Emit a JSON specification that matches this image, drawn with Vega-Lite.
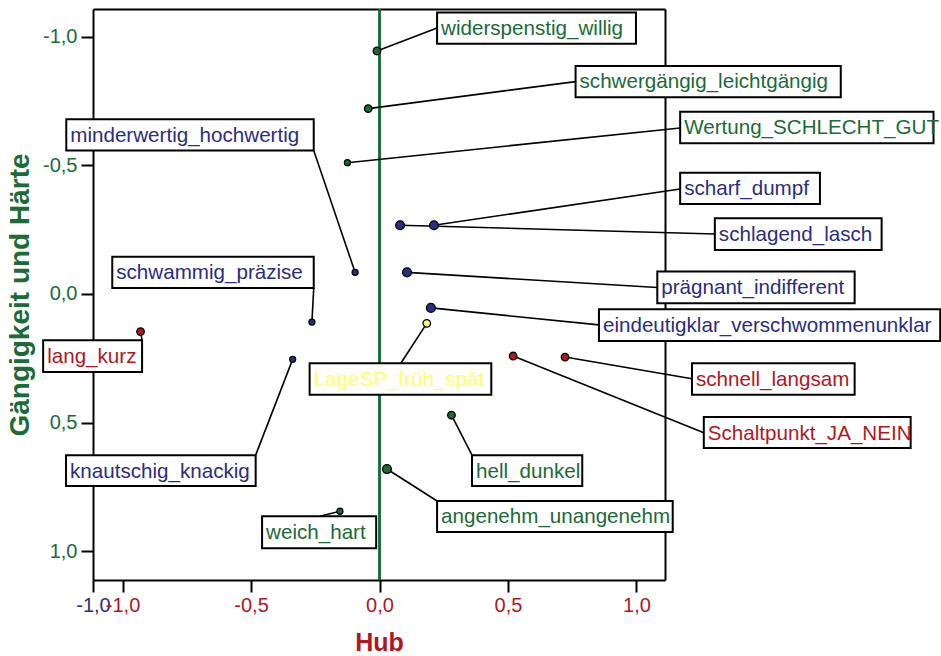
{
  "$schema": "https://vega.github.io/schema/vega-lite/v6.json",
  "width": 572,
  "height": 571,
  "autosize": {"type": "none"},
  "padding": {"left": 93, "top": 9, "right": 276, "bottom": 76},
  "background": "white",
  "config": {
    "view": {"stroke": null},
    "font": "Liberation Sans",
    "axis": {
      "grid": false,
      "domainColor": "black",
      "domainWidth": 2,
      "tickColor": "black",
      "tickWidth": 2,
      "tickSize": 12,
      "labelFont": "Liberation Sans",
      "labelFontSize": 20,
      "titleFont": "Liberation Sans",
      "titleFontWeight": "bold",
      "labelOverlap": false,
      "labelFlush": false,
      "labelBound": false
    }
  },
  "data": {
    "values": [
      {"name": "widerspenstig_willig", "k": "K1", "x": -0.01, "y": -0.944, "w": 2, "ax": 0.224, "ay": -1.033, "x1": 0.224, "x2": 0.998, "y1": -1.093, "y2": -0.972},
      {"name": "schwergängig_leichtgängig", "k": "K1", "x": -0.044, "y": -0.72, "w": 2, "ax": 0.763, "ay": -0.825, "x1": 0.763, "x2": 1.795, "y1": -0.886, "y2": -0.764},
      {"name": "Wertung_SCHLECHT_GUT", "k": "K1", "x": -0.125, "y": -0.51, "w": 1, "ax": 1.170, "ay": -0.645, "x1": 1.170, "x2": 2.156, "y1": -0.708, "y2": -0.586},
      {"name": "minderwertig_hochwertig", "k": "K2", "x": -0.095, "y": -0.084, "w": 1, "ax": -0.256, "ay": -0.557, "x1": -1.219, "x2": -0.256, "y1": -0.679, "y2": -0.557},
      {"name": "scharf_dumpf", "k": "K2", "x": 0.212, "y": -0.267, "w": 3, "ax": 1.170, "ay": -0.408, "x1": 1.170, "x2": 1.714, "y1": -0.471, "y2": -0.350},
      {"name": "schlagend_lasch", "k": "K2", "x": 0.08, "y": -0.267, "w": 3, "ax": 1.305, "ay": -0.233, "x1": 1.305, "x2": 1.954, "y1": -0.294, "y2": -0.171},
      {"name": "prägnant_indifferent", "k": "K2", "x": 0.107, "y": -0.084, "w": 3, "ax": 1.081, "ay": -0.025, "x1": 1.081, "x2": 1.849, "y1": -0.087, "y2": 0.036},
      {"name": "schwammig_präzise", "k": "K2", "x": -0.263, "y": 0.109, "w": 1, "ax": -0.256, "ay": -0.023, "x1": -1.040, "x2": -0.256, "y1": -0.145, "y2": -0.023},
      {"name": "eindeutigklar_verschwommenunklar", "k": "K2", "x": 0.2, "y": 0.054, "w": 3, "ax": 0.854, "ay": 0.120, "x1": 0.854, "x2": 2.182, "y1": 0.059, "y2": 0.183},
      {"name": "LageSP_früh_spät", "k": "K4", "x": 0.184, "y": 0.114, "w": 2, "ax": 0.083, "ay": 0.269, "x1": -0.272, "x2": 0.435, "y1": 0.269, "y2": 0.391},
      {"name": "lang_kurz", "k": "K3", "x": -0.93, "y": 0.146, "w": 2, "ax": -0.924, "ay": 0.180, "x1": -1.309, "x2": -0.924, "y1": 0.180, "y2": 0.303},
      {"name": "knautschig_knackig", "k": "K2", "x": -0.338, "y": 0.254, "w": 1, "ax": -0.482, "ay": 0.626, "x1": -1.220, "x2": -0.482, "y1": 0.626, "y2": 0.746},
      {"name": "schnell_langsam", "k": "K3", "x": 0.722, "y": 0.245, "w": 2, "ax": 1.216, "ay": 0.329, "x1": 1.216, "x2": 1.849, "y1": 0.269, "y2": 0.391},
      {"name": "Schaltpunkt_JA_NEIN", "k": "K3", "x": 0.52, "y": 0.241, "w": 2, "ax": 1.262, "ay": 0.539, "x1": 1.262, "x2": 2.067, "y1": 0.478, "y2": 0.598},
      {"name": "hell_dunkel", "k": "K1", "x": 0.28, "y": 0.471, "w": 2, "ax": 0.360, "ay": 0.626, "x1": 0.360, "x2": 0.789, "y1": 0.626, "y2": 0.746},
      {"name": "angenehm_unangenehm", "k": "K1", "x": 0.029, "y": 0.68, "w": 3, "ax": 0.224, "ay": 0.804, "x1": 0.224, "x2": 1.141, "y1": 0.804, "y2": 0.925},
      {"name": "weich_hart", "k": "K1", "x": -0.154, "y": 0.844, "w": 1, "ax": -0.232, "ay": 0.863, "x1": -0.457, "x2": -0.013, "y1": 0.863, "y2": 0.988}
    ]
  },
  "resolve": {"axis": {"x": "independent", "y": "independent"}},
  "layer": [
    {
      "mark": {"type": "rule", "color": "#1a6b38", "strokeWidth": 1.3},
      "encoding": {
        "x": {"datum": 0, "type": "quantitative", "scale": {"domain": [-1.115, 1.111], "nice": false, "zero": false}, "axis": null}
      }
    },
    {
      "mark": {"type": "rule", "color": "black", "strokeWidth": 1.6},
      "encoding": {
        "x": {
          "field": "x", "type": "quantitative",
          "scale": {"domain": [-1.115, 1.111], "nice": false, "zero": false},
          "axis": {
            "orient": "bottom",
            "title": "Hub",
            "titleColor": "#b0171f",
            "titleFontSize": 25,
            "titlePadding": 15,
            "values": [-1.115, -1, -0.5, 0, 0.5, 1],
            "labelPadding": 3,
            "labelExpr": "datum.value < -1.05 ? '-1,0' : (datum.value < 0 ? '-' : '') + replace(format(abs(datum.value), '.1f'), '.', ',')",
            "labelColor": {"condition": {"test": "datum.value < -1.05", "value": "#2b2d7f"}, "value": "#b0171f"}
          }
        },
        "x2": {"field": "ax"},
        "y": {
          "field": "y", "type": "quantitative",
          "scale": {"domain": [-1.107, 1.111], "nice": false, "zero": false, "reverse": true},
          "axis": {
            "orient": "left",
            "title": "Gängigkeit und Härte",
            "titleColor": "#1a6b38",
            "titleFontSize": 28,
            "titlePadding": 8,
            "values": [-1, -0.5, 0, 0.5, 1],
            "labelPadding": 4,
            "labelColor": "#1a6b38",
            "labelExpr": "(datum.value < 0 ? '-' : '') + replace(format(abs(datum.value), '.1f'), '.', ',')"
          }
        },
        "y2": {"field": "ay"}
      }
    },
    {
      "mark": {"type": "rect", "fill": "white", "stroke": "black", "strokeWidth": 2},
      "encoding": {
        "x": {
          "field": "x1", "type": "quantitative",
          "scale": {"domain": [-1.115, 1.111], "nice": false, "zero": false},
          "axis": {"orient": "top", "labels": false, "ticks": false, "title": null}
        },
        "x2": {"field": "x2"},
        "y": {
          "field": "y1", "type": "quantitative",
          "scale": {"domain": [-1.107, 1.111], "nice": false, "zero": false, "reverse": true},
          "axis": {"orient": "right", "labels": false, "ticks": false, "title": null}
        },
        "y2": {"field": "y2"}
      }
    },
    {
      "mark": {"type": "text", "align": "left", "baseline": "alphabetic", "dx": 4, "dy": 22.5, "fontSize": 20.6, "font": "Liberation Sans"},
      "encoding": {
        "x": {"field": "x1", "type": "quantitative", "scale": {"domain": [-1.115, 1.111], "nice": false, "zero": false}, "axis": null},
        "y": {"field": "y1", "type": "quantitative", "scale": {"domain": [-1.107, 1.111], "nice": false, "zero": false, "reverse": true}, "axis": null},
        "text": {"field": "name"},
        "color": {"field": "k", "type": "nominal", "scale": {"domain": ["K1", "K2", "K3", "K4"], "range": ["#1a6b38", "#2b2d7f", "#b0171f", "#ffff66"]}, "legend": null}
      }
    },
    {
      "mark": {"type": "circle", "stroke": "black", "strokeWidth": 1.3, "opacity": 1},
      "encoding": {
        "x": {"field": "x", "type": "quantitative", "scale": {"domain": [-1.115, 1.111], "nice": false, "zero": false}, "axis": null},
        "y": {"field": "y", "type": "quantitative", "scale": {"domain": [-1.107, 1.111], "nice": false, "zero": false, "reverse": true}, "axis": null},
        "size": {"field": "w", "type": "ordinal", "scale": {"domain": [1, 2, 3], "range": [36, 78, 132]}, "legend": null},
        "color": {"field": "k", "type": "nominal", "scale": {"domain": ["K1", "K2", "K3", "K4"], "range": ["#1a6b38", "#2b2d7f", "#b0171f", "#ffff66"]}, "legend": null}
      }
    }
  ]
}
